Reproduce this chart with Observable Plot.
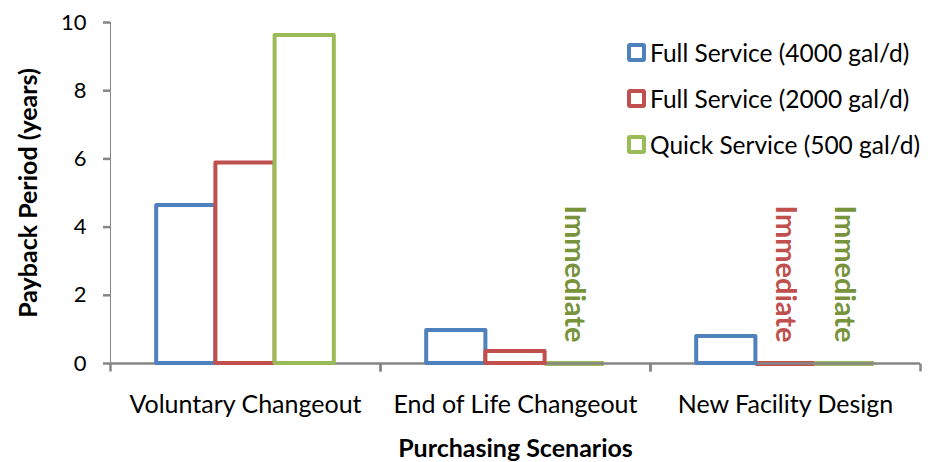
<!DOCTYPE html>
<html>
<head>
<meta charset="utf-8">
<script src="https://cdn.jsdelivr.net/npm/d3@7"></script>
<script src="https://cdn.jsdelivr.net/npm/@observablehq/plot@0.6"></script>
<style>
  html, body { margin: 0; padding: 0; background: #fff; }
  #wrap { position: relative; width: 928px; height: 462px; font-family: Lato, "Open Sans", sans-serif; }
  #wrap svg { display: block; }
  g[aria-label^="y-axis"] text, g[aria-label^="fx-axis"] text { fill: #000; }
  g[aria-label^="y-axis"], g[aria-label^="fx-axis"] { stroke-width: 2.5; }
  g[aria-label="fx-axis tick label"] { font-size: 25px; }
  g[aria-label="y-axis label"], g[aria-label="fx-axis label"] { font-size: 25px; font-weight: bold; }
  #legend { position: absolute; left: 627px; top: 30px; color: #000; font-size: 24.5px; }
  .row { display: flex; align-items: center; height: 45.7px; }
  .sw { width: 11px; height: 11px; border: 4px solid; border-radius: 3px; margin-right: 4px; background: #fff; }
</style>
</head>
<body>
<div id="wrap"></div>
<script>
const categories = ["Voluntary Changeout", "End of Life Changeout", "New Facility Design"];
const series = ["Full Service (4000 gal/d)", "Full Service (2000 gal/d)", "Quick Service (500 gal/d)"];
const fullService4000 = [4.63, 0.97, 0.79];
const fullService2000 = [5.88, 0.35, 0];
const quickService500 = [9.62, 0, 0];
const zeroLabel = "Immediate";
const yTicks = [0, 2, 4, 6, 8, 10];
const barColors = ["#4F81BD", "#C0504D", "#9BBB59"];
const labelColors = ["#4F81BD", "#C0504D", "#77933C"];
const yTitle = "Payback Period (years)";
const xTitle = "Purchasing Scenarios";

const seriesValues = [fullService4000, fullService2000, quickService500];
const rows = [];
categories.forEach((c, i) => {
  series.forEach((s, j) => {
    const v = seriesValues[j][i];
    rows.push({category: c, series: s, value: v, label: v === 0 ? zeroLabel : "", labelColor: labelColors[j]});
  });
});

const tickSym = {draw(ctx) { ctx.moveTo(0, 0); ctx.lineTo(0, 8); }};

const chart = Plot.plot({
  width: 928,
  height: 462,
  marginLeft: 110,
  marginRight: 8,
  marginTop: 22,
  marginBottom: 99,
  style: {fontFamily: "Lato, 'Open Sans', sans-serif", fontSize: "22px", color: "#868686", background: "#fff", overflow: "visible"},
  fx: {domain: categories, padding: 0, axis: "bottom", tickSize: 0, tickPadding: 32, label: xTitle, labelAnchor: "center", labelOffset: 93},
  x: {domain: series, paddingInner: 0, paddingOuter: 0.78, round: false, axis: null},
  y: {domain: [0, 10], ticks: yTicks, tickSize: 7, tickPadding: 17, line: true, label: yTitle, labelArrow: false, labelAnchor: "center", labelOffset: 91},
  color: {domain: series, range: barColors},
  marks: [
    Plot.tickY(rows.filter(d => d.value === 0), {fx: "category", x: "series", y: "value", stroke: "series", strokeWidth: 5}),
    Plot.ruleY([0], {stroke: "#868686", strokeWidth: 2.5}),
    Plot.barY(rows.filter(d => d.value > 0), {fx: "category", x: "series", y: "value", stroke: "series", fill: "#fff", strokeWidth: 4, strokeLinejoin: "round"}),
    Plot.dot([0], {frameAnchor: "bottom-left", symbol: tickSym, stroke: "#868686", strokeWidth: 2.5, fill: "none"}),
    Plot.dot([0], {frameAnchor: "bottom-right", symbol: tickSym, stroke: "#868686", strokeWidth: 2.5, fill: "none"}),
    Plot.text(rows.filter(d => d.value === 0), {fx: "category", x: "series", y: "value", text: "label", fill: "labelColor", rotate: 90, textAnchor: "end", lineAnchor: "middle", dy: -21, fontSize: 29, fontWeight: "bold"})
  ]
});

const wrap = document.getElementById("wrap");
wrap.appendChild(chart);

const legend = document.createElement("div");
legend.id = "legend";
series.forEach((s, j) => {
  const row = document.createElement("div");
  row.className = "row";
  const sw = document.createElement("span");
  sw.className = "sw";
  sw.style.borderColor = barColors[j];
  const t = document.createElement("span");
  t.textContent = s;
  row.appendChild(sw);
  row.appendChild(t);
  legend.appendChild(row);
});
wrap.appendChild(legend);
</script>
</body>
</html>
